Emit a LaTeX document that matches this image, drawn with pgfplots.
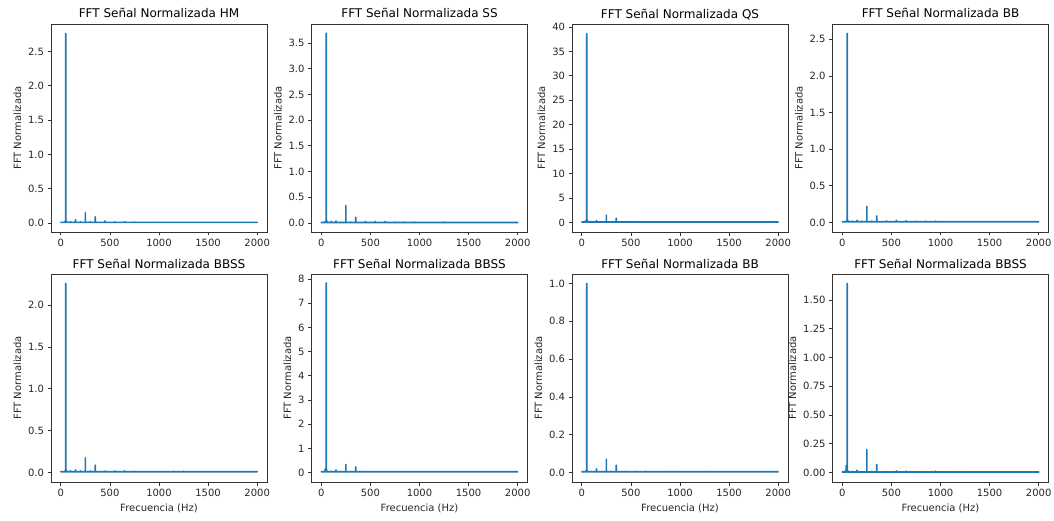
\documentclass[border=0pt]{standalone}
\usepackage{fontspec}
\setmainfont{DejaVu Sans}
\usepackage{pgfplots}
\pgfplotsset{compat=1.18}
\definecolor{mplblue}{HTML}{1F77B4}
\definecolor{spine}{HTML}{333333}
\pgfplotsset{
  fftpanel/.style={
    scale only axis, width=216pt, height=208pt, anchor=south west,
    xmin=-100, xmax=2100,
    xtick={0,500,1000,1500,2000},
    scaled ticks=false,
    axis line style={spine, line width=0.8pt},
    tick style={spine, line width=0.8pt},
    tick align=outside, tick pos=left,
    major tick length=3.5pt,
    tick label style={font=\fontsize{10}{12}\selectfont, text=black!85},
    /pgf/number format/assume math mode=true,
    xticklabel style={/pgf/number format/1000 sep={}},
    title style={font=\fontsize{12}{14}\selectfont, text=black, at={(0.5,1)}, anchor=base, yshift=0pt},
    ylabel style={font=\fontsize{10}{12}\selectfont, text=black!85},
    xlabel style={font=\fontsize{10}{12}\selectfont, text=black!85},
    ylabel={FFT Normalizada},
  },
  d1/.style={yticklabel style={/pgf/number format/.cd, fixed, fixed zerofill, precision=1}},
  d2/.style={yticklabel style={/pgf/number format/.cd, fixed, fixed zerofill, precision=2}},
  d0/.style={yticklabel style={/pgf/number format/.cd, fixed, precision=0}},
  fftline/.style={mplblue, line width=1.7pt, line join=round, line cap=round, no marks},
}
\begin{document}
\begin{tikzpicture}
\path[use as bounding box] (0pt,0pt) rectangle (1054pt,-521pt);

% ---------- Top row ----------
\begin{axis}[fftpanel, d1, at={(51pt,-232pt)}, title={FFT Señal Normalizada HM},
  ymin=-0.13, ymax=2.90, ytick={0,0.5,1,1.5,2,2.5}]
\addplot[fftline] coordinates {
(0,0.01)(40,0.01)(40,0.02)(40,0.01)(50,0.01)(50,2.76)(50,0.02)(55,0.03)(60,0.01)
(100,0.01)(100,0.02)(100,0.01)(150,0.01)(150,0.05)(150,0.01)(200,0.01)(200,0.02)(200,0.01)
(250,0.01)(250,0.15)(250,0.01)(300,0.01)(300,0.02)(300,0.01)(350,0.01)(350,0.09)(350,0.01)
(450,0.01)(450,0.03)(450,0.01)(550,0.01)(550,0.02)(550,0.01)(650,0.01)(650,0.02)(650,0.01)
(750,0.01)(750,0.015)(750,0.01)(950,0.01)(950,0.015)(950,0.01)(2000,0.01)};
\end{axis}

\begin{axis}[fftpanel, d1, at={(311.5pt,-232pt)}, title={FFT Señal Normalizada SS},
  ymin=-0.175, ymax=3.87, ytick={0,0.5,1,1.5,2,2.5,3,3.5}]
\addplot[fftline] coordinates {
(0,0.01)(40,0.01)(40,0.03)(40,0.01)(50,0.01)(50,3.69)(50,0.03)(55,0.04)(60,0.01)
(100,0.01)(100,0.03)(100,0.01)(150,0.01)(150,0.04)(150,0.01)(200,0.01)(200,0.02)(200,0.01)
(250,0.01)(250,0.34)(250,0.01)(300,0.01)(300,0.02)(300,0.01)(350,0.01)(350,0.11)(350,0.01)
(450,0.01)(450,0.03)(450,0.01)(550,0.01)(550,0.03)(550,0.01)(650,0.01)(650,0.03)(650,0.01)
(750,0.01)(750,0.02)(750,0.01)(850,0.01)(850,0.02)(850,0.01)(950,0.01)(950,0.02)(950,0.01)
(1250,0.01)(1250,0.02)(1250,0.01)(2000,0.01)};
\end{axis}

\begin{axis}[fftpanel, d0, at={(572pt,-232pt)}, title={FFT Señal Normalizada QS},
  ymin=-1.93, ymax=40.6, ytick={0,5,10,15,20,25,30,35,40}]
\addplot[fftline] coordinates {
(0,0.1)(40,0.1)(40,0.4)(40,0.1)(50,0.1)(50,38.6)(50,0.4)(55,0.5)(60,0.1)
(100,0.1)(100,0.2)(100,0.1)(150,0.1)(150,0.4)(150,0.1)(200,0.1)(200,0.2)(200,0.1)
(250,0.1)(250,1.5)(250,0.1)(300,0.1)(300,0.2)(300,0.1)(350,0.1)(350,0.9)(350,0.1)
(450,0.1)(450,0.2)(450,0.1)(550,0.1)(550,0.15)(550,0.1)(2000,0.1)};
\end{axis}

\begin{axis}[fftpanel, d1, at={(832.5pt,-232pt)}, title={FFT Señal Normalizada BB},
  ymin=-0.129, ymax=2.709, ytick={0,0.5,1,1.5,2,2.5}]
\addplot[fftline] coordinates {
(0,0.01)(40,0.01)(40,0.02)(40,0.01)(50,0.01)(50,2.58)(50,0.02)(55,0.03)(60,0.01)
(100,0.01)(100,0.02)(100,0.01)(150,0.01)(150,0.03)(150,0.01)(200,0.01)(200,0.02)(200,0.01)
(250,0.01)(250,0.22)(250,0.01)(300,0.01)(300,0.02)(300,0.01)(350,0.01)(350,0.09)(350,0.01)
(450,0.01)(450,0.02)(450,0.01)(550,0.01)(550,0.03)(550,0.01)(650,0.01)(650,0.025)(650,0.01)
(750,0.01)(750,0.02)(750,0.01)(850,0.01)(850,0.02)(850,0.01)(950,0.01)(950,0.02)(950,0.01)
(2000,0.01)};
\end{axis}

% ---------- Bottom row ----------
\begin{axis}[fftpanel, d1, at={(51pt,-482pt)}, title={FFT Señal Normalizada BBSS},
  xlabel={Frecuencia (Hz)},
  ymin=-0.113, ymax=2.373, ytick={0,0.5,1,1.5,2}]
\addplot[fftline] coordinates {
(0,0.01)(40,0.01)(40,0.02)(40,0.01)(50,0.01)(50,2.26)(50,0.02)(55,0.03)(60,0.01)
(100,0.01)(100,0.02)(100,0.01)(150,0.01)(150,0.03)(150,0.01)(200,0.01)(200,0.02)(200,0.01)
(250,0.01)(250,0.175)(250,0.01)(300,0.01)(300,0.02)(300,0.01)(350,0.01)(350,0.087)(350,0.01)
(450,0.01)(450,0.02)(450,0.01)(550,0.01)(550,0.02)(550,0.01)(650,0.01)(650,0.02)(650,0.01)
(750,0.01)(750,0.015)(750,0.01)(1150,0.01)(1150,0.015)(1150,0.01)(1250,0.01)(1250,0.015)(1250,0.01)
(2000,0.01)};
\end{axis}

\begin{axis}[fftpanel, d0, at={(311.5pt,-482pt)}, title={FFT Señal Normalizada BBSS},
  xlabel={Frecuencia (Hz)},
  ymin=-0.39, ymax=8.21, ytick={0,1,2,3,4,5,6,7,8}]
\addplot[fftline] coordinates {
(0,0.03)(40,0.03)(40,0.15)(40,0.03)(50,0.03)(50,7.84)(50,0.1)(55,0.08)(60,0.03)
(100,0.03)(100,0.06)(100,0.03)(150,0.03)(150,0.11)(150,0.03)(200,0.03)(200,0.05)(200,0.03)
(250,0.03)(250,0.33)(250,0.03)(300,0.03)(300,0.05)(300,0.03)(350,0.03)(350,0.23)(350,0.03)
(450,0.03)(450,0.05)(450,0.03)(750,0.03)(750,0.04)(750,0.03)(850,0.03)(850,0.04)(850,0.03)
(950,0.03)(950,0.04)(950,0.03)(1050,0.03)(1050,0.04)(1050,0.03)(1150,0.03)(1150,0.04)(1150,0.03)
(1250,0.03)(1250,0.04)(1250,0.03)(2000,0.03)};
\end{axis}

\begin{axis}[fftpanel, d1, at={(572pt,-482pt)}, title={FFT Señal Normalizada BB},
  xlabel={Frecuencia (Hz)},
  ymin=-0.05, ymax=1.05, ytick={0,0.2,0.4,0.6,0.8,1.0}]
\addplot[fftline] coordinates {
(0,0.004)(40,0.004)(40,0.008)(40,0.004)(50,0.004)(50,1.0)(50,0.01)(55,0.01)(60,0.004)
(100,0.004)(100,0.006)(100,0.004)(150,0.004)(150,0.019)(150,0.004)(200,0.004)(200,0.006)(200,0.004)
(250,0.004)(250,0.07)(250,0.004)(300,0.004)(300,0.007)(300,0.004)(350,0.004)(350,0.039)(350,0.004)
(450,0.004)(450,0.007)(450,0.004)(550,0.004)(550,0.007)(550,0.004)(650,0.004)(650,0.007)(650,0.004)
(850,0.004)(850,0.006)(850,0.004)(950,0.004)(950,0.006)(950,0.004)(1250,0.004)(1250,0.006)(1250,0.004)
(2000,0.004)};
\end{axis}

\begin{axis}[fftpanel, d2, at={(832.5pt,-482pt)}, title={FFT Señal Normalizada BBSS},
  xlabel={Frecuencia (Hz)},
  ymin=-0.082, ymax=1.727, ytick={0,0.25,0.5,0.75,1,1.25,1.5}]
\addplot[fftline] coordinates {
(0,0.005)(30,0.005)(30,0.015)(30,0.005)(40,0.005)(40,0.06)(40,0.005)(50,0.005)(50,1.645)(50,0.02)(55,0.015)(60,0.005)
(100,0.005)(100,0.01)(100,0.005)(150,0.005)(150,0.02)(150,0.005)(200,0.005)(200,0.01)(200,0.005)
(250,0.005)(250,0.2)(250,0.005)(300,0.005)(300,0.01)(300,0.005)(350,0.005)(350,0.07)(350,0.005)
(450,0.005)(450,0.01)(450,0.005)(550,0.005)(550,0.015)(550,0.005)(650,0.005)(650,0.012)(650,0.005)
(850,0.005)(850,0.01)(850,0.005)(950,0.005)(950,0.012)(950,0.005)(1150,0.005)(1150,0.01)(1150,0.005)
(1250,0.005)(1250,0.01)(1250,0.005)(2000,0.005)};
\end{axis}
\end{tikzpicture}
\end{document}
